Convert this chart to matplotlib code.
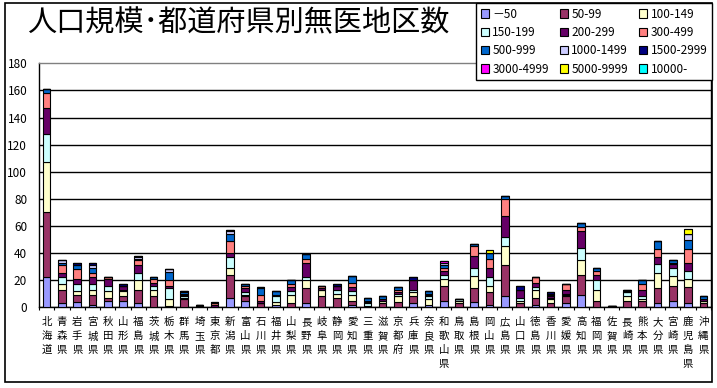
import numpy as np
import matplotlib
matplotlib.use('Agg')
import matplotlib.pyplot as plt
from matplotlib.patches import Rectangle, Patch

plt.rcParams['font.family'] = ['Noto Sans CJK JP', 'DejaVu Sans']

# 都道府県
prefs = ['北海道', '青森県', '岩手県', '宮城県', '秋田県', '山形県', '福島県', '茨城県',
         '栃木県', '群馬県', '埼玉県', '東京都', '新潟県', '富山県', '石川県', '福井県',
         '山梨県', '長野県', '岐阜県', '静岡県', '愛知県', '三重県', '滋賀県', '京都府',
         '兵庫県', '奈良県', '和歌山県', '鳥取県', '島根県', '岡山県', '広島県', '山口県',
         '徳島県', '香川県', '愛媛県', '高知県', '福岡県', '佐賀県', '長崎県', '熊本県',
         '大分県', '宮崎県', '鹿児島県', '沖縄県']

# 人口規模別の無医地区数
s_m50 = [22, 3, 4, 2, 5, 5, 3, 0, 0, 0, 0, 0, 7, 5, 0, 2, 0, 3, 0, 0, 2, 1,
         0, 0, 3, 2, 5, 0, 4, 2, 8, 0, 2, 0, 3, 9, 0, 0, 0, 0, 3, 5, 3, 0]
s_50 = [48, 10, 5, 7, 2, 3, 10, 8, 1, 6, 1, 0, 17, 3, 3, 0, 3, 11, 8, 7, 3, 0,
        3, 4, 5, 0, 11, 3, 10, 9, 23, 3, 5, 3, 5, 15, 5, 1, 5, 5, 11, 11, 12, 3]
s_100 = [37, 4, 3, 4, 5, 4, 7, 5, 5, 1, 0, 0, 5, 1, 0, 2, 6, 6, 5, 3, 4, 0,
         2, 4, 3, 4, 5, 2, 9, 5, 14, 2, 6, 3, 1, 11, 8, 0, 3, 1, 11, 7, 6, 2]
s_150 = [21, 5, 5, 4, 4, 1, 5, 3, 8, 1, 0, 0, 8, 2, 0, 4, 3, 2, 0, 3, 3, 2,
         0, 2, 2, 2, 3, 1, 6, 6, 7, 2, 2, 1, 1, 9, 7, 0, 3, 2, 7, 6, 6, 0]
s_200 = [19, 3, 4, 5, 5, 3, 6, 2, 2, 1, 1, 2, 3, 3, 2, 1, 3, 11, 1, 3, 3, 1,
         1, 1, 7, 1, 3, 0, 9, 7, 15, 6, 3, 1, 3, 12, 4, 0, 0, 5, 5, 3, 6, 1]
s_300 = [11, 6, 7, 3, 1, 0, 4, 3, 4, 1, 0, 1, 9, 2, 4, 0, 2, 3, 2, 0, 3, 1,
         0, 2, 0, 1, 2, 0, 7, 7, 13, 0, 4, 1, 4, 3, 3, 0, 1, 4, 6, 1, 10, 0]
s_500 = [3, 2, 3, 4, 0, 0, 1, 1, 6, 1, 0, 0, 5, 1, 5, 3, 3, 3, 0, 0, 5, 2,
         2, 2, 0, 2, 2, 0, 2, 4, 2, 0, 0, 1, 0, 3, 2, 0, 1, 3, 6, 2, 7, 2]
s_1000 = [0, 2, 0, 2, 0, 0, 1, 0, 2, 1, 0, 0, 2, 0, 0, 0, 0, 0, 0, 0, 0, 0,
          0, 0, 0, 0, 2, 0, 0, 0, 0, 0, 0, 0, 0, 0, 0, 0, 0, 0, 0, 0, 4, 0]
s_1500 = [0, 0, 2, 2, 0, 1, 1, 0, 0, 0, 0, 0, 1, 0, 1, 0, 0, 0, 0, 1, 0, 0,
          0, 0, 2, 0, 0, 0, 0, 0, 0, 3, 0, 1, 0, 0, 0, 0, 0, 0, 0, 0, 0, 0]
s_3000 = [0, 0, 0, 0, 0, 0, 0, 0, 0, 0, 0, 1, 0, 0, 0, 0, 0, 0, 0, 0, 0, 0,
          0, 0, 0, 0, 1, 0, 0, 0, 0, 0, 0, 0, 0, 0, 0, 0, 0, 0, 0, 0, 0, 0]
s_5000 = [0, 0, 0, 0, 0, 0, 0, 0, 0, 0, 0, 0, 0, 0, 0, 0, 0, 0, 0, 0, 0, 0,
          0, 0, 0, 0, 0, 0, 0, 2, 0, 0, 0, 0, 0, 0, 0, 0, 0, 0, 0, 0, 4, 0]
s_10000 = [0] * 44

labels = ['－50', '50-99', '100-149', '150-199', '200-299', '300-499',
          '500-999', '1000-1499', '1500-2999', '3000-4999', '5000-9999', '10000-']
colors = ['#9999FF', '#993366', '#FFFFCC', '#CCFFFF', '#660066', '#FF8080',
          '#0066CC', '#CCCCFF', '#000080', '#FF00FF', '#FFFF00', '#00FFFF']
series = [s_m50, s_50, s_100, s_150, s_200, s_300, s_500, s_1000,
          s_1500, s_3000, s_5000, s_10000]

W, H = 717, 388
fig = plt.figure(figsize=(W / 100, H / 100), dpi=100)
ax = fig.add_axes([39 / W, 1 - 307.3 / H, (711 - 39) / W, (307.3 - 63.3) / H])

x = np.arange(len(prefs))
bottom = np.zeros(len(prefs))
for vals, c, lab in zip(series, colors, labels):
    v = np.array(vals, dtype=float)
    ax.bar(x, v, 0.5, bottom=bottom, color=c, edgecolor='black', linewidth=0.8,
           label=lab, zorder=3)
    bottom += v

ax.set_xlim(-0.5, len(prefs) - 0.5)
ax.set_ylim(0, 180)
ax.set_yticks(range(0, 181, 20))
ax.tick_params(axis='y', length=0, pad=8.5, labelsize=8.5)
ax.yaxis.grid(True, color='black', linewidth=1)
ax.get_ygridlines()[-1].set_visible(False)
ax.set_axisbelow(True)

ax.set_xticks(x)
ax.set_xticklabels(['\n'.join(p) for p in prefs], fontsize=7.5, linespacing=1.5)
ax.set_xticks(np.arange(-0.5, len(prefs), 1), minor=True)
ax.tick_params(axis='x', which='major', length=0, pad=7)
ax.tick_params(axis='x', which='minor', length=2.5, width=0.8, direction='out')

for s in ['left', 'bottom', 'right']:
    ax.spines[s].set_color('black')
    ax.spines[s].set_linewidth(1)
ax.spines['top'].set_color('#808080')
ax.spines['top'].set_linewidth(1)

fig.add_artist(Rectangle((5 / W, 6 / H), 707 / W, 379 / H, transform=fig.transFigure,
                         fill=False, edgecolor='black', linewidth=1.2))

fig.text(27 / W, 1 - 23.5 / H, '人口規模･都道府県別無医地区数', fontsize=21,
         ha='left', va='center')

# 凡例は行方向に並べる
handles = [Patch(facecolor=c, edgecolor='black', linewidth=0.8) for c in colors]
order = [0, 3, 6, 9, 1, 4, 7, 10, 2, 5, 8, 11]
leg = fig.legend([handles[i] for i in order], [labels[i] for i in order],
                 loc='upper right', bbox_to_anchor=(712 / W, 1 - 3 / H), ncol=3,
                 fontsize=8.5, frameon=True, fancybox=False, framealpha=1,
                 edgecolor='black', borderaxespad=0, handlelength=0.7,
                 handleheight=0.7, handletextpad=0.3, columnspacing=0.9,
                 labelspacing=0.45, borderpad=0.4)
leg.get_frame().set_linewidth(1)

fig.savefig('out.png', dpi=100)
